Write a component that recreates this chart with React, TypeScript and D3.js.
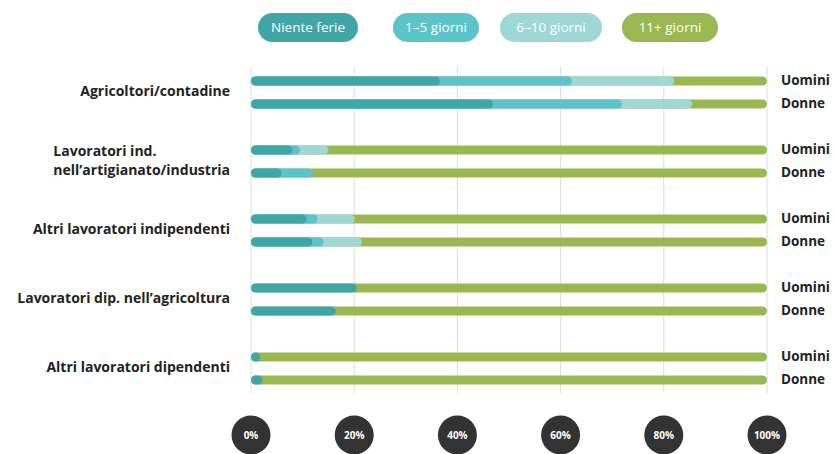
import React, { useLayoutEffect, useRef, useState } from "react";
import * as d3 from "d3";

const categories = [
  ["Agricoltori/contadine"],
  ["Lavoratori ind.", "nell’artigianato/industria"],
  ["Altri lavoratori indipendenti"],
  ["Lavoratori dip. nell’agricoltura"],
  ["Altri lavoratori dipendenti"],
];
const genders = ["Uomini", "Donne"];
const seriesNames = ["Niente ferie", "1–5 giorni", "6–10 giorni", "11+ giorni"];
const seriesColors = ["#3fa5a7", "#5cc4c8", "#9dd8d5", "#9bb752"];

// values per row: [category index, gender], in percent
const nienteFerie = [36.6, 46.9, 8.0, 5.9, 10.8, 11.9, 20.5, 16.4, 1.8, 2.2];
const giorni1_5 = [25.6, 25.0, 1.5, 6.1, 2.1, 2.2, 0, 0, 0, 0];
const giorni6_10 = [19.8, 13.6, 5.5, 0, 7.2, 7.4, 0, 0, 0, 0];
const giorni11 = [18.0, 14.5, 85.0, 88.0, 79.9, 78.5, 79.5, 83.6, 98.2, 97.8];
const ticks = [0, 20, 40, 60, 80, 100];

const W = 834;
const H = 454;

function CatLabel({ lines, cy, font }: { lines: string[]; cy: number; font: string }) {
  const ref = useRef<SVGTextElement>(null);
  const [w, setW] = useState(0);
  useLayoutEffect(() => {
    if (ref.current) setW(ref.current.getBBox().width);
  }, []);
  const lh = 19;
  const right = 230;
  const multi = lines.length > 1;
  return (
    <text
      ref={ref}
      textAnchor={multi ? "start" : "end"}
      fill="#222"
      fontFamily={font}
      fontWeight={700}
      fontSize={14}
    >
      {lines.map((l, li) => (
        <tspan
          key={li}
          x={multi ? right - w : right}
          y={cy + (li - (lines.length - 1) / 2) * lh}
          dominantBaseline="middle"
        >
          {l}
        </tspan>
      ))}
    </text>
  );
}

export default function App() {
  const x = d3.scaleLinear().domain([0, 100]).range([251, 767]);
  const rows = nienteFerie.map((_, i) => ({
    key: i,
    cat: Math.floor(i / 2),
    g: i % 2,
    v0: nienteFerie[i],
    v1: giorni1_5[i],
    v2: giorni6_10[i],
    v3: giorni11[i],
  }));
  const stack = d3.stack<any>().keys(["v0", "v1", "v2", "v3"]);
  const stacked = stack(rows);
  const catY = d3.scalePoint<number>().domain(d3.range(categories.length)).range([81, 357]);
  const rowY = (r: any) => (catY(r.cat) as number) + r.g * 23;
  const barH = 9;
  const font = "'Open Sans', 'Noto Sans', sans-serif";

  const legendX = [258, 393, 500, 622];
  const legendW = [100, 86, 102, 96];

  return (
    <svg width={W} height={H} style={{ position: "absolute", left: 0, top: 0, background: "#fff" }}>
      {/* legend */}
      {seriesNames.map((s, i) => (
        <g key={s}>
          <rect x={legendX[i]} y={13} width={legendW[i]} height={29} rx={14.5} fill={seriesColors[i]} />
          <text
            x={legendX[i] + legendW[i] / 2}
            y={28}
            dominantBaseline="middle"
            textAnchor="middle"
            fill="#fff"
            fontFamily={font}
            fontSize={13.5}
          >
            {s}
          </text>
        </g>
      ))}
      {/* grid */}
      {ticks.map((t) => (
        <line key={t} x1={x(t)} x2={x(t)} y1={67} y2={393} stroke="#dcdcdc" strokeWidth={1} />
      ))}
      {/* bars: draw cumulative from the last series down to first */}
      {rows.map((r, ri) => (
        <g key={r.key}>
          {[3, 2, 1, 0].map((si) => {
            const seg = stacked[si][ri];
            const end = seg[1];
            if (seg[1] - seg[0] <= 0 && si !== 3) return null;
            const x0 = x(0);
            const x1 = x(end);
            return (
              <rect
                key={si}
                x={x0}
                y={rowY(r) - barH / 2}
                width={Math.max(x1 - x0, barH)}
                height={barH}
                rx={barH / 2}
                fill={seriesColors[si]}
              />
            );
          })}
          <text
            x={781}
            y={rowY(r)}
            dominantBaseline="middle"
            fill="#222"
            fontFamily={font}
            fontWeight={700}
            fontSize={13.5}
          >
            {genders[r.g]}
          </text>
        </g>
      ))}
      {/* category labels */}
      {categories.map((lines, ci) => (
        <CatLabel key={ci} lines={lines} cy={(catY(ci) as number) + 11.5} font={font} />
      ))}
      {/* axis circles */}
      {ticks.map((t) => (
        <g key={t}>
          <circle cx={x(t)} cy={435} r={19.5} fill="#333" />
          <text
            x={x(t)}
            y={436}
            textAnchor="middle"
            dominantBaseline="middle"
            fill="#fff"
            fontFamily={font}
            fontWeight={700}
            fontSize={10}
          >
            {t}%
          </text>
        </g>
      ))}
    </svg>
  );
}
